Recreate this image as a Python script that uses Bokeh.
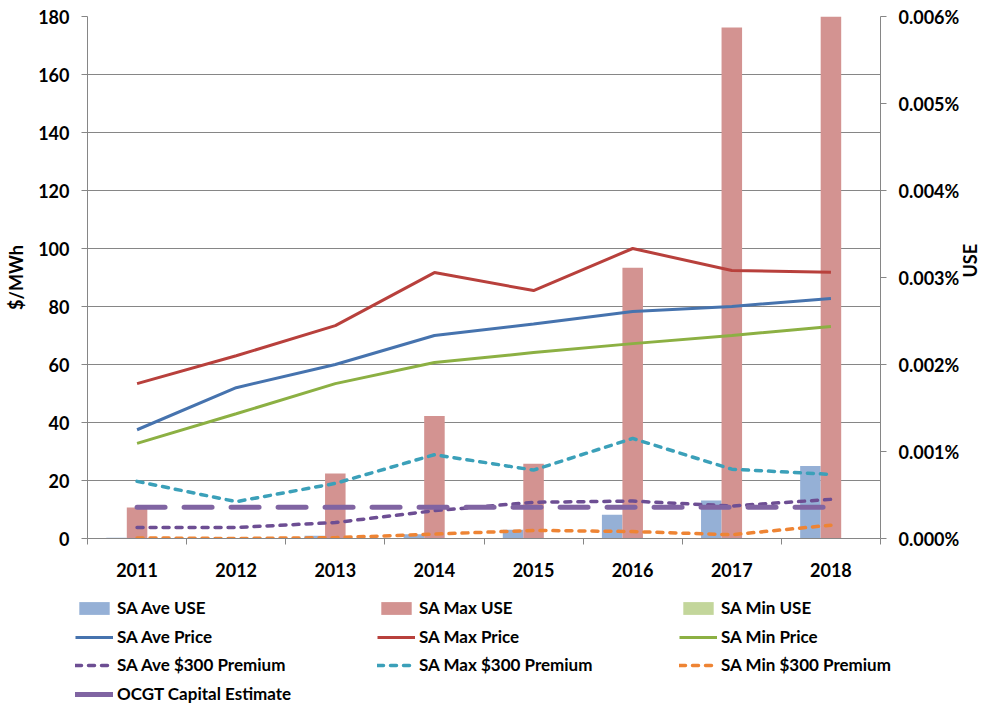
import math
from bokeh.plotting import figure
from bokeh.models import (Range1d, LinearAxis, FixedTicker, PrintfTickFormatter,
                          ColumnDataSource, Legend, LegendItem)
from bokeh.transform import dodge
from bokeh.embed import file_html
from bokeh.resources import INLINE

# ---------------- data ----------------
years = [2011, 2012, 2013, 2014, 2015, 2016, 2017, 2018]
year_labels = ["2011", "2012", "2013", "2014", "2015", "2016", "2017", "2018"]

# USE (% of energy) - secondary axis
sa_ave_use = [0.00001, 0.0, 0.000033, 0.00005, 0.0001, 0.000273, 0.000437, 0.000833]
sa_max_use = [0.000357, 0.0, 0.000747, 0.001407, 0.00086, 0.003113, 0.005873, 0.006]
sa_min_use = [0.0, 0.0, 0.0, 0.0, 0.0, 0.0, 0.0, 0.0]

# $/MWh - primary axis
sa_ave_price = [37.5, 52.0, 60.0, 70.0, 74.0, 78.3, 80.0, 82.8]
sa_max_price = [53.4, 63.0, 73.4, 91.7, 85.5, 100.0, 92.4, 91.8]
sa_min_price = [32.8, 43.0, 53.4, 60.7, 64.1, 67.2, 70.0, 73.1]
sa_ave_prem = [3.8, 3.8, 5.5, 9.6, 12.5, 12.9, 11.2, 13.5]
sa_max_prem = [19.7, 12.7, 19.0, 28.9, 23.6, 34.5, 23.9, 22.1]
sa_min_prem = [0.2, 0.0, 0.3, 1.5, 2.8, 2.4, 1.3, 4.6]
ocgt_capital = [10.75, 10.75, 10.75, 10.75, 10.75, 10.75, 10.75, 10.75]

left_ticks = [0, 20, 40, 60, 80, 100, 120, 140, 160, 180]
right_ticks = [0.0, 0.001, 0.002, 0.003, 0.004, 0.005, 0.006]

series_labels = [
    "SA Ave USE", "SA Max USE", "SA Min USE",
    "SA Ave Price", "SA Max Price", "SA Min Price",
    "SA Ave $300 Premium", "SA Max $300 Premium", "SA Min $300 Premium",
    "OCGT Capital Estimate",
]

# ---------------- styling ----------------
FONT = "Lato"
GRID = "#868686"
C_AVE_USE = "#95B0D6"
C_MAX_USE = "#D39391"
C_MIN_USE = "#C3D69B"
C_AVE_PRICE = "#4673AE"
C_MAX_PRICE = "#B8403C"
C_MIN_PRICE = "#8CB043"
C_AVE_PREM = "#6D4E93"
C_MAX_PREM = "#3BA0B9"
C_MIN_PREM = "#EE8434"
C_OCGT = "#8064A2"

src = ColumnDataSource(dict(
    year=years, ave_use=sa_ave_use, max_use=sa_max_use, min_use=sa_min_use,
    ave_price=sa_ave_price, max_price=sa_max_price, min_price=sa_min_price,
    ave_prem=sa_ave_prem, max_prem=sa_max_prem, min_prem=sa_min_prem,
    ocgt=ocgt_capital,
))

W = 984
p = figure(frame_width=793, frame_height=522,
           x_range=Range1d(2010.5, 2018.5), y_range=Range1d(0, 180),
           output_backend="svg", toolbar_location=None,
           min_border_left=87, min_border_top=16, min_border_right=W - 87 - 793,
           min_border_bottom=50, outline_line_color=None,
           background_fill_color="white", border_fill_color="white")

p.extra_y_ranges = {"use": Range1d(0, 0.006)}

left = p.yaxis[0]
left.ticker = FixedTicker(ticks=left_ticks)
left.axis_label = "$/MWh"

xax = p.xaxis[0]
xax.ticker = FixedTicker(ticks=years, minor_ticks=[y - 0.5 for y in years] + [years[-1] + 0.5])
xax.major_label_overrides = {y: l for y, l in zip(years, year_labels)}
xax.major_tick_line_color = None
xax.major_tick_out = 6
xax.minor_tick_out = 6
xax.minor_tick_in = 0
xax.minor_tick_line_color = GRID
xax.major_label_standoff = 18

right = LinearAxis(y_range_name="use", ticker=FixedTicker(ticks=right_ticks),
                   formatter=PrintfTickFormatter(format="%.3f%%"), axis_label="USE")
p.add_layout(right, "right")
if "axis_label_orientation" in right.properties():
    right.axis_label_orientation = math.pi / 2

for ax in [left, right]:
    ax.major_tick_out = 6
    ax.major_tick_in = 0
    ax.minor_tick_line_color = None
    ax.major_tick_line_color = GRID
    ax.major_label_standoff = 12
    ax.axis_label_standoff = 8

for ax in [xax, left, right]:
    ax.axis_line_color = GRID
    ax.major_label_text_font = FONT
    ax.major_label_text_font_style = "bold"
    ax.major_label_text_font_size = "18px"
    ax.major_label_text_color = "black"
    ax.axis_label_text_font = FONT
    ax.axis_label_text_font_style = "bold"
    ax.axis_label_text_font_size = "18px"
    ax.axis_label_text_color = "black"

p.xgrid.grid_line_color = None
p.ygrid.grid_line_color = GRID
p.ygrid.grid_line_width = 1

# series styles (shared between chart and legend)
bar_cols = ["ave_use", "max_use", "min_use"]
bar_styles = [dict(fill_color=C_AVE_USE, line_color=None),
              dict(fill_color=C_MAX_USE, line_color=None),
              dict(fill_color=C_MIN_USE, line_color=None)]
line_cols = ["ave_price", "max_price", "min_price", "ave_prem", "max_prem", "min_prem", "ocgt"]
line_styles = [dict(line_color=C_AVE_PRICE, line_width=3),
               dict(line_color=C_MAX_PRICE, line_width=3),
               dict(line_color=C_MIN_PRICE, line_width=3),
               dict(line_color=C_AVE_PREM, line_width=3.5, line_dash="6 7", line_cap="round"),
               dict(line_color=C_MAX_PREM, line_width=3.5, line_dash="6 7", line_cap="round"),
               dict(line_color=C_MIN_PREM, line_width=3.5, line_dash="6 7", line_cap="round"),
               dict(line_color=C_OCGT, line_width=5, line_dash="28 19", line_cap="round")]
# legend keys: the long-dash OCGT key shows as one solid stroke, as in the original
key_line_styles = line_styles[:6] + [dict(line_color=C_OCGT, line_width=5, line_cap="round")]

# bars (secondary axis)
bw = 0.207
for col, off, st in zip(bar_cols, [-bw, 0.0, bw], bar_styles):
    p.vbar(x=dodge("year", off, range=p.x_range), top=col, width=bw,
           source=src, y_range_name="use", **st)

# lines
for col, st in zip(line_cols, line_styles):
    p.line("year", col, source=src, **st)

# ---------------- legend strip below the chart ----------------
# (key glyphs use the same series; the strip's ranges keep the marks out of view)
LH = 117
lp = figure(width=W, height=LH, output_backend="svg", toolbar_location=None,
            x_range=Range1d(0, 1), y_range=Range1d(-10, -9),
            x_axis_type=None, y_axis_type=None, outline_line_color=None,
            min_border_left=0, min_border_right=0, min_border_top=0, min_border_bottom=0,
            background_fill_color="white", border_fill_color="white")
lp.xgrid.grid_line_color = None
lp.ygrid.grid_line_color = None
key_renderers = [lp.vbar(x="year", top=col, width=bw, source=src, **st)
                 for col, st in zip(bar_cols, bar_styles)]
key_renderers += [lp.line("year", col, source=src, **st)
                  for col, st in zip(line_cols, key_line_styles)]

rows = [[0, 1, 2], [3, 4, 5], [6, 7, 8], [9]]
row_tops = [10, 39, 67, 96]
for idx, top in zip(rows, row_tops):
    lg = Legend(items=[LegendItem(label=series_labels[i], renderers=[key_renderers[i]]) for i in idx],
                orientation="horizontal", location=(75, LH - top - 20),
                label_text_font=FONT, label_text_font_style="bold",
                label_text_font_size="17px", label_text_color="black",
                glyph_width=38, glyph_height=16, label_width=254, label_height=20,
                label_standoff=4, spacing=6, padding=0, margin=0,
                border_line_color=None, background_fill_alpha=0)
    lp.add_layout(lg, "center")

open("out.html", "w").write(file_html([p, lp], INLINE))
